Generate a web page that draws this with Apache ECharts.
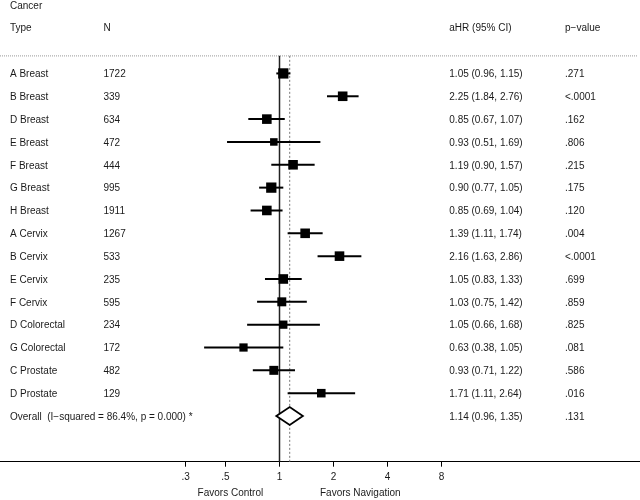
<!DOCTYPE html>
<html><head><meta charset="utf-8">
<script src="https://cdn.jsdelivr.net/npm/echarts@6/dist/echarts.min.js"></script>
<style>html,body{margin:0;padding:0;background:#fff}#c{width:640px;height:500px}</style>
</head><body><div id="c"></div>
<script>
// ---- data ----
const types = ['A Breast','B Breast','D Breast','E Breast','F Breast','G Breast','H Breast','A Cervix','B Cervix','E Cervix','F Cervix','D Colorectal','G Colorectal','C Prostate','D Prostate'];
const ns = ['1722','339','634','472','444','995','1911','1267','533','235','595','234','172','482','129'];
const hr = [1.05,2.25,0.85,0.93,1.19,0.90,0.85,1.39,2.16,1.05,1.03,1.05,0.63,0.93,1.71];
const lo = [0.96,1.84,0.67,0.51,0.90,0.77,0.69,1.11,1.63,0.83,0.75,0.66,0.38,0.71,1.11];
const hi = [1.15,2.76,1.07,1.69,1.57,1.05,1.04,1.74,2.86,1.33,1.42,1.68,1.05,1.22,2.64];
const pvals = ['.271','<.0001','.162','.806','.215','.175','.120','.004','<.0001','.699','.859','.825','.081','.586','.016'];
const weights = [8.4,7.3,7.3,4.5,7.3,8.4,7.3,7.3,7.3,7.3,6.4,5.4,5.4,6.4,5.8];
const overallLabel = 'Overall  (I\u2212squared = 86.4%, p = 0.000) *';
const overallCI = [1.14, 0.96, 1.35]; // estimate, lower, upper
const overallP = '.131';
const headerTop = ['Cancer'];
const headers = ['Type','N','aHR (95% CI)','p\u2212value'];
const tickValues = [0.3,0.5,1,2,4,8];
const tickLabels = ['.3','.5','1','2','4','8'];

// ---- layout ----
const FONT = "'Liberation Sans', Arial, sans-serif";
const TXT = '#1a1a1a';
const colX = [10, 103.5, 449.3, 565];
const sepRow = -0.77, axisRow = 17;
const fmt = v => v.toFixed(2);

const logT = v => Math.log2(v);
const nRows = types.length;
const idx = types.map((_, i) => i);

const textData = [];
textData.push({value:[colX[0], -3], name: headerTop[0]});
headers.forEach((h, j) => textData.push({value:[colX[j], -2], name:h}));
idx.forEach(i => {
  textData.push({value:[colX[0], i], name: types[i]});
  textData.push({value:[colX[1], i], name: ns[i]});
  textData.push({value:[colX[2], i], name: fmt(hr[i]) + ' (' + fmt(lo[i]) + ', ' + fmt(hi[i]) + ')'});
  textData.push({value:[colX[3], i], name: pvals[i]});
});
textData.push({value:[colX[0], nRows], name: overallLabel});
textData.push({value:[colX[2], nRows], name: fmt(overallCI[0]) + ' (' + fmt(overallCI[1]) + ', ' + fmt(overallCI[2]) + ')'});
textData.push({value:[colX[3], nRows], name: overallP});

const tickLog = tickValues.map(logT);
const labelFor = v => { const k = tickLog.findIndex(t => Math.abs(t - v) < 1e-6); return k >= 0 ? tickLabels[k] : ''; };

const chart = echarts.init(document.getElementById('c'), null, {renderer:'canvas'});
chart.setOption({
  animation: false,
  grid: {left:0, right:0, top:0, bottom:38.3},
  xAxis: [
    {type:'value', min:-279.5/54, max:(640-279.5)/54,
     axisLine:{show:true, onZero:false, lineStyle:{color:'#000', width:1}},
     axisTick:{show:true, length:5, customValues:tickLog, lineStyle:{color:'#000', width:1}},
     axisLabel:{show:true, customValues:tickLog, formatter:labelFor, margin:11, color:TXT, fontSize:10, fontFamily:FONT},
     splitLine:{show:false}},
    {type:'value', min:0, max:640, show:false}
  ],
  yAxis: {type:'value', inverse:true, min:-3.215, max:axisRow, show:false},
  graphic: [
    {type:'text', left:230.6 - 33, top:488, style:{text:'Favors Control', fill:TXT, font:'10px ' + FONT}},
    {type:'text', left:320, top:488, style:{text:'Favors Navigation', fill:TXT, font:'10px ' + FONT}}
  ],
  series: [
    {type:'line', xAxisIndex:1, data:[[0, sepRow],[638, sepRow]], symbol:'none', silent:true,
     lineStyle:{color:'#bbbbbb', width:1.5, type:[1,1]}, z:1},
    {type:'line', xAxisIndex:0, data:[[0, sepRow],[0, axisRow]], symbol:'none', silent:true,
     lineStyle:{color:'#222', width:1.5}, z:2},
    {type:'line', xAxisIndex:0, data:[[logT(overallCI[0]), sepRow],[logT(overallCI[0]), axisRow]], symbol:'none', silent:true,
     lineStyle:{color:'#777', width:1, type:[2,2]}, z:2},
    {type:'custom', xAxisIndex:0, silent:true, z:3,
     data: idx.map(i => [logT(lo[i]), logT(hi[i]), i]),
     encode:{x:[0,1], y:2},
     renderItem:(p, api) => {
       const a = api.coord([api.value(0), api.value(2)]);
       const b = api.coord([api.value(1), api.value(2)]);
       return {type:'line', shape:{x1:a[0], y1:a[1], x2:b[0], y2:b[1]}, style:{stroke:'#000', lineWidth:2}};
     }},
    {type:'scatter', xAxisIndex:0, silent:true, z:4, symbol:'rect',
     data: idx.map(i => ({value:[logT(hr[i]), i], symbolSize: 3.55 * Math.sqrt(weights[i])})),
     itemStyle:{color:'#000', opacity:1}},
    {type:'custom', xAxisIndex:0, silent:true, z:4,
     data: [[logT(overallCI[1]), logT(overallCI[0]), logT(overallCI[2]), nRows]],
     encode:{x:[0,1,2], y:3},
     renderItem:(p, api) => {
       const l = api.coord([api.value(0), api.value(3)]);
       const c = api.coord([api.value(1), api.value(3)]);
       const r = api.coord([api.value(2), api.value(3)]);
       const h = 9;
       return {type:'polygon', shape:{points:[[l[0], l[1]], [c[0], c[1]-h], [r[0], r[1]], [c[0], c[1]+h]]},
               style:{fill:'#fff', stroke:'#000', lineWidth:1.8}};
     }},
    {type:'scatter', xAxisIndex:1, silent:true, z:5, symbolSize:1, itemStyle:{color:'rgba(0,0,0,0)', opacity:1},
     data: textData,
     label:{show:true, position:'inside', align:'left', verticalAlign:'middle', formatter:'{b}',
            offset:[0, 1], color:TXT, fontSize:10, fontFamily:FONT}}
  ]
});
</script></body></html>
